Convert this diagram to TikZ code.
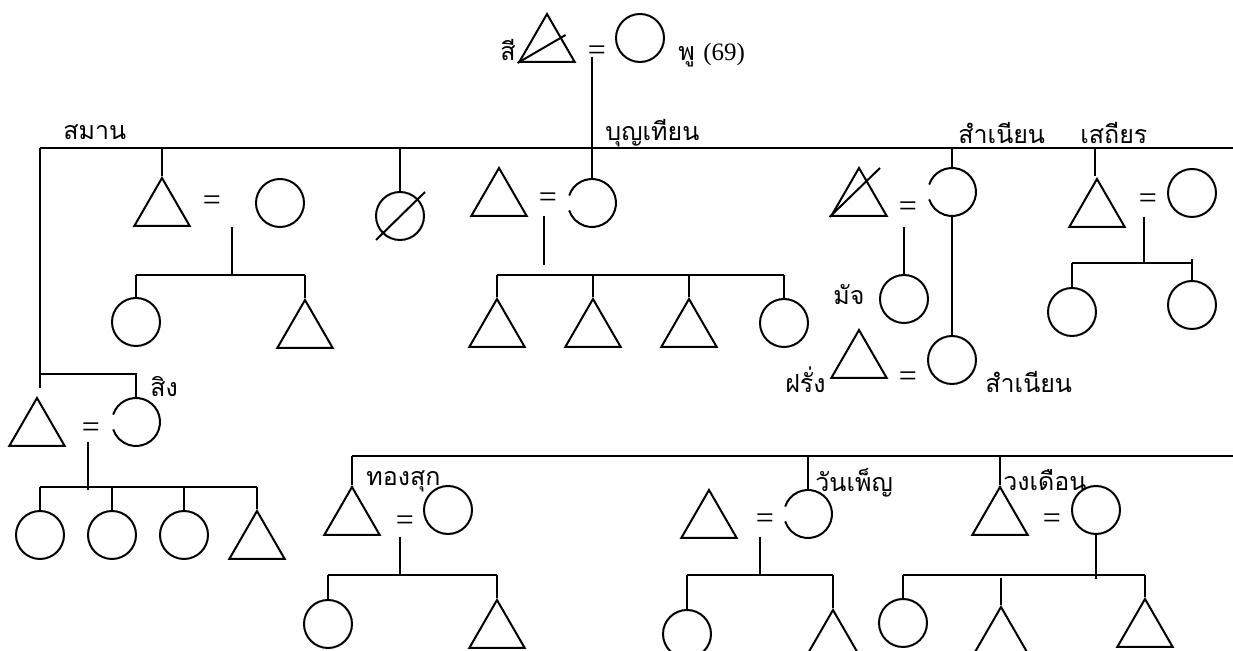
\documentclass[tikz,border=0pt]{standalone}
\usepackage{fontspec}
\setmainfont{Liberation Serif}
\newfontfamily\thaifont[Script=Thai]{Loma}
\usetikzlibrary{shapes.geometric}
\begin{document}
\begin{tikzpicture}[x=0.5pt,y=-0.5pt,
 ln/.style={line width=1pt},
 fem/.style={circle,draw,line width=1pt,minimum size=24pt,inner sep=0pt},
 femgap/.style={circle,minimum size=24pt,inner sep=0pt,outer sep=0pt},
 male/.style={regular polygon,regular polygon sides=3,draw,line width=1pt,minimum size=32pt,inner sep=0pt},
 lbl/.style={font=\thaifont\fontsize{12.5}{14}\selectfont,inner sep=0pt},
 eqs/.style={font=\fontsize{16}{16}\selectfont,inner sep=0pt},
 gaparc/.style={line width=1pt}]
\useasboundingbox (0,0) rectangle (1233,651);
\clip (0,0) rectangle (1233,651);

% ---------- generation 1
\node[male] (si) at (547,46) {};
\draw[ln] (si.corner 2) -- ++(48,-28);
\node[lbl,anchor=east] (lsi) at (516,50) {สี};
\node[eqs] (eqA) at (597,53) {=};
\node[fem] (pu) at (640,38) {};
\node[lbl,anchor=west] (lpu) at (678,55) {พู {\rmfamily (69)}};
\coordinate (dA) at (592,57);
\node[femgap] (bt) at (592,203) {};
\draw[gaparc] (bt.162) arc[start angle=162,end angle=-162,radius=12pt];
\draw[ln] (dA) -- (bt.north);

% ---------- main sibling bar
\coordinate (mbL) at (40,148);
\coordinate (mbR) at (1233,148);
\draw[ln] (mbL) -- (mbR);

% ---------- Samarn
\node[lbl,anchor=west] (lsamarn) at (63,132) {สมาน};
\node[male] (samarn) at (37,430) {};
\node[femgap] (sing) at (136,422) {};
\draw[gaparc] (sing.162) arc[start angle=162,end angle=-162,radius=12pt];
\draw[ln] (mbL) -- (40,388);
\coordinate (sJ) at (40,374);
\draw[ln] (sJ) -| (sing.north);
\node[lbl,anchor=west] (lsing) at (150,387) {สิง};
\node[eqs] (eqB) at (91,430) {=};
\coordinate (sD) at (88,442);
\coordinate (sB) at (88,487);
\draw[ln] (sD) -- (88,490);
\node[fem] (s1) at (40,535) {};
\node[fem] (s2) at (112,535) {};
\node[fem] (s3) at (184,535) {};
\node[male] (s4) at (257,543) {};
\draw[ln] (s1.north |- sB) -- (s4.north |- sB);
\foreach \n in {s1,s2,s3,s4} \draw[ln] (\n.north |- sB) -- (\n.north);

% ---------- branch 1
\node[male] (b1m) at (162,210) {};
\draw[ln] (162,148) -- (b1m.north);
\node[eqs] (eqC) at (212,203) {=};
\node[fem] (b1f) at (280,203) {};
\coordinate (b1B) at (232,275);
\draw[ln] (232,227) -- (b1B);
\node[fem] (b1c1) at (136,322) {};
\node[male] (b1c2) at (305,332) {};
\draw[ln] (b1c1.north |- b1B) -- (b1c2.north |- b1B);
\foreach \n in {b1c1,b1c2} \draw[ln] (\n.north |- b1B) -- (\n.north);

% ---------- deceased daughter
\node[fem] (dc) at (400,216) {};
\draw[ln] (400,148) -- (dc.north);
\draw[ln] ([shift={(-24,24)}]dc.center) -- ([shift={(25,-24)}]dc.center);

% ---------- Bunthian
\node[lbl,anchor=west] (lbt) at (605,133) {บุญเทียน};
\node[male] (btm) at (499,200) {};
\node[eqs] (eqD) at (548,200) {=};
\coordinate (btB) at (544,275);
\draw[ln] (544,216) -- (544,265);
\node[male] (bt1) at (497,331) {};
\node[male] (bt2) at (593,331) {};
\node[male] (bt3) at (689,331) {};
\node[fem] (bt4) at (784,323) {};
\draw[ln] (bt1.north |- btB) -- (bt4.north |- btB);
\foreach \n in {bt1,bt2,bt3,bt4} \draw[ln] (\n.north |- btB) -- (\n.north);

% ---------- Samnian
\node[lbl,anchor=west] (lsn) at (958,133) {สำเนียน};
\node[male] (snm) at (859,200) {};
\draw[ln] (snm.corner 2) -- (880,168);
\node[eqs] (eqE) at (908,209) {=};
\node[femgap] (sn) at (952,192) {};
\draw[gaparc] (sn.162) arc[start angle=162,end angle=-162,radius=12pt];
\draw[ln] (952,148) -- (sn.north);
\node[fem] (sn2) at (952,360) {};
\draw[ln] (sn.south) -- (sn2.north);
\node[fem] (mat) at (904,299) {};
\draw[ln] (904,227) -- (mat.north);
\node[lbl,anchor=west] (lmat) at (833,295) {มัจ};
\node[male] (far) at (859,362) {};
\node[eqs] (eqF) at (908,379) {=};
\node[lbl,anchor=east] (lfar) at (826,380) {ฝรั่ง};
\node[lbl,anchor=west] (lsn2) at (985,382) {สำเนียน};

% ---------- Sathian
\node[lbl,anchor=west] (lst) at (1080,133) {เสถียร};
\node[male] (stm) at (1097,211) {};
\draw[ln] (1095,148) -- (1095,176);
\node[eqs] (eqG) at (1148,201) {=};
\node[fem] (stf) at (1192,193) {};
\coordinate (stB) at (1144,263);
\draw[ln] (1144,217) -- (stB);
\node[fem] (st1) at (1072,312) {};
\node[fem] (st2) at (1192,305) {};
\draw[ln] (st1.north |- stB) -- (st2.north |- stB);
\draw[ln] (1192,259) -- (st2.north);
\draw[ln] (st1.north |- stB) -- (st1.north);

% ---------- lower sibling bar
\coordinate (lbL) at (352,456);
\coordinate (lbR) at (1233,456);
\draw[ln] (lbL) -- (lbR);

% ---------- Thongsuk
\node[male] (tsm) at (352,519) {};
\draw[ln] (lbL) -- (tsm.north);
\node[lbl,anchor=west] (lts) at (366,481) {ทองสุก};
\node[eqs] (eqH) at (405,523) {=};
\node[fem] (tsf) at (448,510) {};
\coordinate (tsB) at (400,575);
\draw[ln] (400,537) -- (tsB);
\node[fem] (ts1) at (328,624) {};
\node[male] (ts2) at (497,632) {};
\draw[ln] (ts1.north |- tsB) -- (ts2.north |- tsB);
\foreach \n in {ts1,ts2} \draw[ln] (\n.north |- tsB) -- (\n.north);

% ---------- Wanphen
\node[male] (wpm) at (709,522) {};
\node[eqs] (eqI) at (765,521) {=};
\node[femgap] (wpf) at (808,514) {};
\draw[gaparc] (wpf.162) arc[start angle=162,end angle=-162,radius=12pt];
\draw[ln] (808,456) -- (wpf.north);
\node[lbl,anchor=west] (lwp) at (815,483) {วันเพ็ญ};
\coordinate (wpB) at (760,575);
\draw[ln] (760,537) -- (wpB);
\node[fem] (wp1) at (687,634) {};
\node[male] (wp2) at (833,642) {};
\draw[ln] (wp1.north |- wpB) -- (wp2.north |- wpB);
\foreach \n in {wp1,wp2} \draw[ln] (\n.north |- wpB) -- (\n.north);

% ---------- Wongduean
\node[male] (wdm) at (1000,519) {};
\draw[ln] (1000,456) -- (wdm.north);
\node[lbl,anchor=west] (lwd) at (1003,480) {วงเดือน};
\node[eqs] (eqJ) at (1052,521) {=};
\node[fem] (wdf) at (1096,510) {};
\coordinate (wdB) at (1096,575);
\draw[ln] (wdf.south) -- (1096,579);
\node[fem] (wd1) at (903,623) {};
\node[male] (wd2) at (1001,639) {};
\node[male] (wd3) at (1145,631) {};
\draw[ln] (wd1.north |- wdB) -- (wd3.north |- wdB);
\draw[ln] (wd1.north |- wdB) -- (wd1.north);
\draw[ln] (wd3.north |- wdB) -- (wd3.north);
\draw[ln] (1001,578) -- (wd2.north);
\end{tikzpicture}
\end{document}
